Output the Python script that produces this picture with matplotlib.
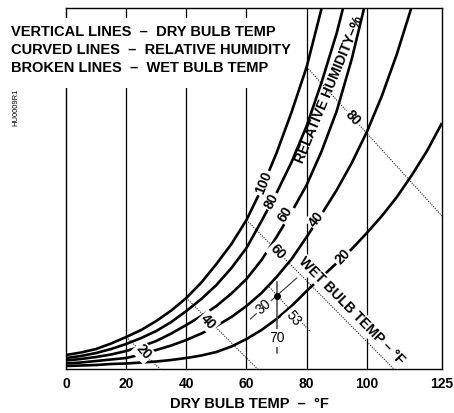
import matplotlib
matplotlib.use('Agg')
import matplotlib.pyplot as plt
from matplotlib.patches import Rectangle

plt.rcParams['font.family'] = ['Liberation Sans', 'DejaVu Sans']

# ---------------- data ----------------
# dry bulb temperatures (°F) at which the relative-humidity curves were read
t_grid = [0, 5, 10, 15, 20, 25, 30, 35, 40, 45, 50, 55, 60, 65, 70, 75, 80,
          85, 90, 95, 100, 105, 110, 115, 120, 125]
# moisture content (chart units, 0..361 = bottom..top) of each RH curve
rh100 = [14, 16.5, 20, 25.5, 32, 39, 48, 58.5, 71, 86.5, 105, 125, 149, 180,
         216, 257, 302, 361, 425]
rh80 = [11, 13, 16, 20, 25, 31, 38, 47, 58, 70, 84, 101, 121, 148, 176, 207,
        243, 287, 336, 395, 464]
rh60 = [8.5, 10, 12, 14.5, 18, 22.5, 28, 35.5, 44, 53, 63, 75.5, 90, 109, 132,
        157, 184, 218, 258, 310, 372, 443]
rh40 = [5.5, 6.5, 8, 9.5, 11, 14.5, 19, 23.5, 29, 35.5, 43, 52, 63, 76, 92,
        110, 132, 155, 179, 206, 237, 273, 315, 363, 420]
rh20 = [3, 3.5, 4, 5, 5.5, 6.5, 7.5, 9, 11, 13.5, 17, 22.5, 30, 39, 50, 63,
        78, 92, 106, 120, 136, 153, 172, 194, 218, 246]
rh_curves = [rh100, rh80, rh60, rh40, rh20]
rh_names = ['100', '80', '60', '40', '20']
# label positions (°F, moisture) and angles of RH labels
rh_lab_x = [65.7, 68.3, 73.0, 83.3, 92.0]
rh_lab_y = [186, 168, 155, 150, 112]
rh_lab_rot = [68, 63, 58, 52, 46]

# wet bulb lines: start/end points (°F, moisture)
wb_names = ['20', '40', '60', '80']
wb_x0 = [20, 40, 60, 80]
wb_y0 = [32, 71, 149, 302]
wb_x1 = [31.3, 63.7, 109, 125]
wb_y1 = [0, 0, 0, 153]
wb_lab_x = [25.7, 47.3, 70.3, 95.3]
wb_lab_y = [17, 47, 117, 251]

dry_bulb_lines = [20, 40, 60, 80, 100]
x_ticks = [0, 20, 40, 60, 80, 100, 125]

# example point: 70 °F dry bulb, 53 °F wet bulb, 30 % RH
ex_db = 70
ex_w = 73
ex_db_line = [87, 16]
ex_rh_x = [61.3, 76.7]
ex_rh_y = [50, 91]
ex_wb_x = [67, 81.3]
ex_wb_y = [84, 37]

legend_lines = ['VERTICAL LINES  –  DRY BULB TEMP',
                'CURVED LINES  –  RELATIVE HUMIDITY',
                'BROKEN LINES  –  WET BULB TEMP']

# ---------------- figure ----------------
W, H = 454, 413
fig = plt.figure(figsize=(W / 100, H / 100), dpi=100)
ax = fig.add_axes([66 / W, 44 / H, 376 / W, 361 / H])
ax.set_xlim(0, 125)
ax.set_ylim(0, 361)

for t in dry_bulb_lines:
    ax.axvline(t, color='black', lw=0.9, zorder=1)

for ys in rh_curves:
    ax.plot(t_grid[:len(ys)], ys, color='black', lw=1.9, zorder=3,
            solid_capstyle='butt', solid_joinstyle='round')

wlab = dict(boxstyle='square,pad=0.12', fc='white', ec='none')
for name, x, y, r in zip(rh_names, rh_lab_x, rh_lab_y, rh_lab_rot):
    ax.text(x, y, name, rotation=r, ha='center', va='center',
            fontsize=10, fontweight='bold', bbox=wlab, zorder=6,
            rotation_mode='anchor')

for name, x0, y0, x1, y1, lx, ly in zip(wb_names, wb_x0, wb_y0, wb_x1, wb_y1,
                                        wb_lab_x, wb_lab_y):
    ax.plot([x0, x1], [y0, y1], color='#222222', lw=0.8,
            linestyle=(0, (1, 1.2)), zorder=2)
    ax.text(lx, ly, name, rotation=-47, ha='center', va='center',
            fontsize=10, fontweight='bold', bbox=wlab, zorder=6,
            rotation_mode='anchor')

ax.text(95.0, 58, 'WET BULB TEMP – °F', rotation=-45.5,
        ha='center', va='center', fontsize=10, fontweight='bold', zorder=6,
        rotation_mode='anchor',
        bbox=dict(boxstyle='square,pad=0.08', fc='white', ec='none'))
ax.text(87.6, 279, 'RELATIVE HUMIDITY–%', rotation=67.5, ha='center',
        va='center', fontsize=10, fontweight='bold', zorder=6,
        rotation_mode='anchor')

# example point construction
ax.plot([ex_db, ex_db], ex_db_line, color='#444444', lw=1.1, zorder=4)
ax.text(ex_db, 31, '70', ha='center', va='center', fontsize=10,
        bbox=wlab, zorder=6)
ax.plot(ex_rh_x, ex_rh_y, color='#333333', lw=0.8, zorder=4)
ax.text(65.7, 62, '30', rotation=42, ha='center', va='center', fontsize=10,
        bbox=wlab, zorder=6, rotation_mode='anchor')
ax.plot(ex_wb_x, ex_wb_y, color='#222222', lw=0.8,
        linestyle=(0, (1, 1.2)), zorder=4)
ax.text(75.7, 51, '53', rotation=-50, ha='center', va='center', fontsize=10,
        bbox=wlab, zorder=6, rotation_mode='anchor')
ax.plot([ex_db], [ex_w], 'o', color='black', ms=4, zorder=7)

ax.set_xticks(x_ticks)
ax.set_xticklabels([str(v) for v in x_ticks], fontsize=10, fontweight='bold')
ax.tick_params(axis='x', length=0, pad=6)
ax.set_yticks([])
for s in ax.spines.values():
    s.set_linewidth(1.0)

# legend block with white background
fig.patches.append(Rectangle((6 / W, 1 - 88 / H), 290 / W, 70 / H,
                             transform=fig.transFigure, fc='white', ec='none',
                             zorder=10))
for i, line in enumerate(legend_lines):
    fig.text(11 / W, 1 - (31.5 + 18.5 * i) / H, line, ha='left', va='center',
             fontsize=10.5, fontweight='bold', zorder=11)

fig.text(249 / W, 1 - 404 / H, 'DRY BULB TEMP  –  °F', ha='center',
         va='center', fontsize=10.5, fontweight='bold')
fig.text(16 / W, 1 - 107 / H, 'HU0009R1', rotation=90, ha='center',
         va='center', fontsize=5.5)

fig.savefig('out.png', dpi=100)
